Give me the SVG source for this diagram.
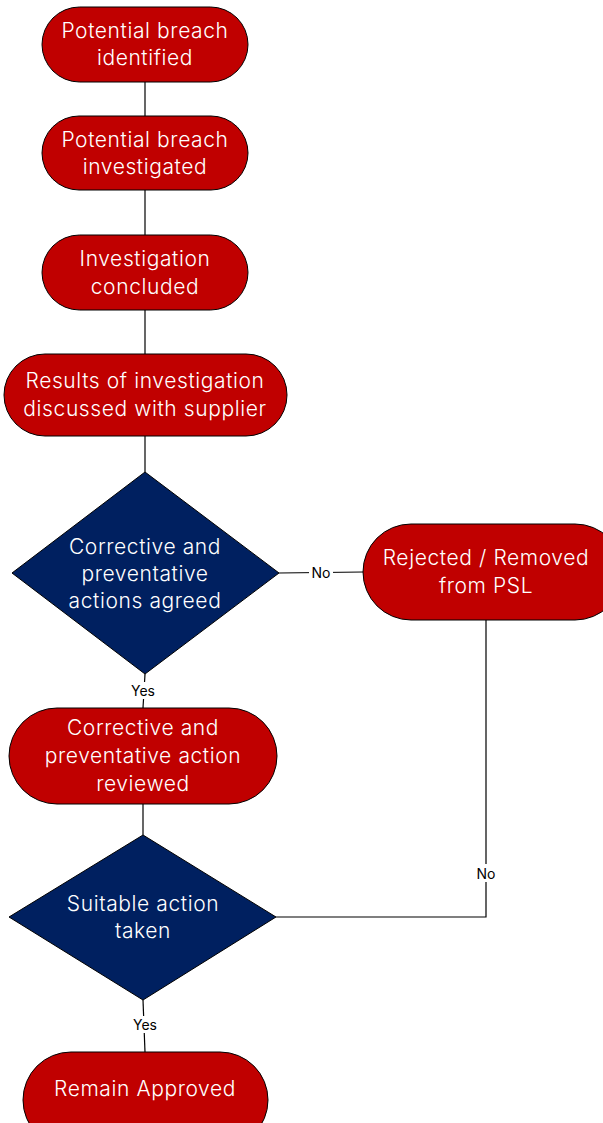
<svg xmlns="http://www.w3.org/2000/svg" width="603" height="1123" viewBox="0 0 603 1123">
<style>
.term{fill:#C00000;stroke:#000;stroke-width:1}
.dec{fill:#002060;stroke:#000;stroke-width:1}
.t{font-family:Inter,"Liberation Sans",sans-serif;font-size:21px;font-weight:300;letter-spacing:0.6px;fill:#fff;text-anchor:middle}
.c{stroke:#000;stroke-width:1.2;fill:none}
.lb{font-family:Inter,"Liberation Sans",sans-serif;font-size:14px;fill:#000;text-anchor:middle}
.lbg{fill:#fff}
</style>
<rect width="603" height="1123" fill="#fff"/>
<g id="connectors">
<line class="c" x1="145" y1="82" x2="145" y2="116"/>
<line class="c" x1="145" y1="190" x2="145" y2="235"/>
<line class="c" x1="145" y1="310" x2="145" y2="354"/>
<line class="c" x1="145" y1="436" x2="145" y2="472"/>
<polyline class="c" points="279,573 363,572"/>
<rect class="lbg" x="309" y="563" width="24" height="18"/>
<text class="lb" x="321" y="578">No</text>
<polyline class="c" points="145,674 143,708"/>
<rect class="lbg" x="128" y="682" width="30" height="17"/>
<text class="lb" x="143" y="696">Yes</text>
<line class="c" x1="143" y1="804" x2="143" y2="835"/>
<polyline class="c" points="486,620 486,917 276,917"/>
<rect class="lbg" x="473" y="864" width="26" height="18"/>
<text class="lb" x="486" y="879">No</text>
<polyline class="c" points="143,1000 145,1052"/>
<rect class="lbg" x="130" y="1016" width="30" height="17"/>
<text class="lb" x="145" y="1030">Yes</text>
</g>
<g id="n1"><rect class="term" x="42" y="7" width="206" height="75" rx="37.5"/><text class="t" x="145" y="38">Potential breach</text><text class="t" x="145" y="65">identified</text></g>
<g id="n2"><rect class="term" x="42" y="116" width="206" height="74" rx="37"/><text class="t" x="145" y="147">Potential breach</text><text class="t" x="145" y="174">investigated</text></g>
<g id="n3"><rect class="term" x="42" y="235" width="206" height="75" rx="37.5"/><text class="t" x="145" y="266">Investigation</text><text class="t" x="145" y="294">concluded</text></g>
<g id="n4"><rect class="term" x="4" y="354" width="283" height="82" rx="41"/><text class="t" x="145" y="388">Results of investigation</text><text class="t" x="145" y="416">discussed with supplier</text></g>
<g id="d1"><polygon class="dec" points="145,472 279,573 145,674 12,573"/><text class="t" x="145" y="554">Corrective and</text><text class="t" x="145" y="581">preventative</text><text class="t" x="145" y="608">actions agreed</text></g>
<g id="n5"><rect class="term" x="363" y="524" width="260" height="96" rx="48"/><text class="t" x="486" y="565">Rejected / Removed</text><text class="t" x="486" y="593">from PSL</text></g>
<g id="n6"><rect class="term" x="9" y="708" width="268" height="96" rx="48"/><text class="t" x="143" y="735">Corrective and</text><text class="t" x="143" y="763">preventative action</text><text class="t" x="143" y="791">reviewed</text></g>
<g id="d2"><polygon class="dec" points="143,835 276,917 143,1000 9,917"/><text class="t" x="143" y="911">Suitable action</text><text class="t" x="143" y="938">taken</text></g>
<g id="n7"><rect class="term" x="23" y="1052" width="245" height="96" rx="48"/><text class="t" x="145" y="1096">Remain Approved</text></g>
</svg>
